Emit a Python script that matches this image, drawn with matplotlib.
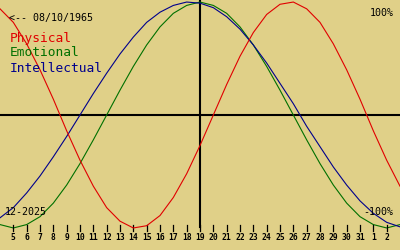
import matplotlib
matplotlib.use('Agg')
import matplotlib.pyplot as plt

# day labels shown on the bottom axis (Dec 2025 -> Jan 2026)
day_labels = ['5', '6', '7', '8', '9', '10', '11', '12', '13', '14', '15', '16',
              '17', '18', '19', '20', '21', '22', '23', '24', '25', '26', '27',
              '28', '29', '30', '31', '1', '2']

# cycle values in percent, one per day, from Dec 4 to Jan 3
physical = [94, 82, 63, 40, 14, -14, -40, -63, -82, -94, -100, -98, -89, -73,
            -52, -27, 0, 27, 52, 73, 89, 98, 100, 94, 82, 63, 40, 14, -14, -40, -63]
emotional = [-97, -100, -97, -90, -78, -62, -43, -22, 0, 22, 43, 62, 78, 90,
             97, 100, 97, 90, 78, 62, 43, 22, 0, -22, -43, -62, -78, -90, -97, -100, -97]
intellectual = [-91, -82, -69, -54, -37, -19, 0, 19, 37, 54, 69, 82, 91, 97,
                100, 99, 95, 87, 76, 62, 46, 28, 10, -10, -28, -46, -62, -76, -87, -95, -99]

bg = '#e0d088'
plt.rcParams['font.family'] = 'DejaVu Sans Mono'

fig = plt.figure(figsize=(4, 2.5), dpi=100, facecolor=bg)
ax = fig.add_axes([0, 0, 1, 1])
ax.set_facecolor(bg)
ax.set_xlim(0, 30)
ax.set_ylim(-119.5, 101.8)
ax.axis('off')

days = list(range(len(physical)))

# axes cross
ax.axhline(0, color='black', lw=1.5, zorder=1)
ax.plot([15, 15], [-99, 102], color='black', lw=1.5, zorder=1)

ax.plot(days, physical, color='#e00000', lw=0.8, zorder=3)
ax.plot(days, emotional, color='#007000', lw=0.8, zorder=2)
ax.plot(days, intellectual, color='#00008c', lw=0.8, zorder=2)

# day ticks and labels
for n, lab in enumerate(day_labels, start=1):
    ax.plot([n, n], [-97.3, -102.6], color='black', lw=0.9)
    ax.text(n, -108.8, lab, ha='center', va='center', fontsize=5.8,
            fontweight='bold', color='black')

ax.text(0.68, 86, '<-- 08/10/1965', ha='left', va='center', fontsize=7.2, color='black')
ax.text(0.75, 68, 'Physical', ha='left', va='center', fontsize=9.3, color='#e00000')
ax.text(0.75, 55, 'Emotional', ha='left', va='center', fontsize=9.3, color='#007000')
ax.text(0.75, 41.5, 'Intellectual', ha='left', va='center', fontsize=9.3, color='#00008c')

ax.text(29.5, 90, '100%', ha='right', va='center', fontsize=7.2, color='black')
ax.text(29.5, -86, '-100%', ha='right', va='center', fontsize=7.2, color='black')
ax.text(0.35, -86, '12-2025', ha='left', va='center', fontsize=7.2, color='black')

plt.savefig('out.png', dpi=100, facecolor=bg)
